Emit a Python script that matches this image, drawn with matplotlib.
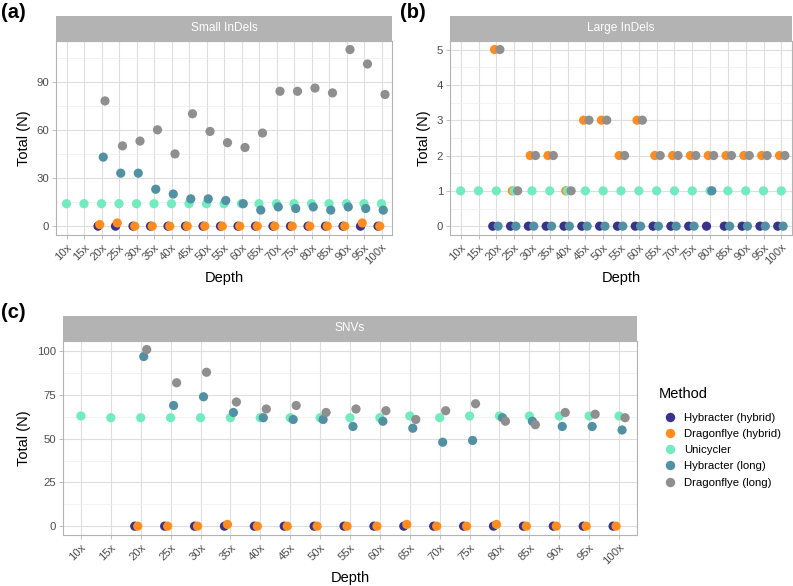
import matplotlib
matplotlib.use("Agg")
import matplotlib.pyplot as plt
from matplotlib.lines import Line2D
import numpy as np

plt.rcParams["font.family"] = ["Liberation Sans", "DejaVu Sans"]

W, H = 793, 586
depths = ["10x", "15x", "20x", "25x", "30x", "35x", "40x", "45x", "50x", "55x",
          "60x", "65x", "70x", "75x", "80x", "85x", "90x", "95x", "100x"]
methods = ["Hybracter (hybrid)", "Dragonflye (hybrid)", "Unicycler",
           "Hybracter (long)", "Dragonflye (long)"]
colors = ["#3A3189", "#FF8C1E", "#72EBBF", "#5191A3", "#8F8F8F"]

N = None
# Small InDels
small_hyb_hybrid = [N, N, 0, 0, 0, 0, 0, 0, 0, 0, 0, 0, 0, 0, 0, 0, 0, 0, 0]
small_dfl_hybrid = [N, N, 1, 2, 0, 0, 0, 0, 0, 0, 0, 0, 0, 0, 0, 0, 0, 2, 0]
small_unicycler = [14] * 19
small_hyb_long = [N, N, 43, 33, 33, 23, 20, 17, 17, 16, 14, 10, 12, 11, 12, 10, 12, 11, 10]
small_dfl_long = [N, N, 78, 50, 53, 60, 45, 70, 59, 52, 49, 58, 84, 84, 86, 83, 110, 101, 82]

# Large InDels
large_hyb_hybrid = [N, N, 0, 0, 0, 0, 0, 0, 0, 0, 0, 0, 0, 0, 0, 0, 0, 0, 0]
large_dfl_hybrid = [N, N, 5, 1, 2, 2, 1, 3, 3, 2, 3, 2, 2, 2, 2, 2, 2, 2, 2]
large_unicycler = [1] * 19
large_hyb_long = [N, N, 0, 0, 0, 0, 0, 0, 0, 0, 0, 0, 0, 0, 1, 0, 0, 0, 0]
large_dfl_long = [N, N, 5, 1, 2, 2, 1, 3, 3, 2, 3, 2, 2, 2, 2, 2, 2, 2, 2]

# SNVs
snv_hyb_hybrid = [N, N, 0, 0, 0, 0, 0, 0, 0, 0, 0, 0, 0, 0, 0, 0, 0, 0, 0]
snv_dfl_hybrid = [N, N, 0, 0, 0, 1, 0, 0, 0, 0, 0, 1, 0, 0, 1, 0, 0, 0, 0]
snv_unicycler = [63, 62, 62, 62, 62, 62, 62, 62, 62, 62, 62, 63, 62, 63, 63, 63, 63, 63, 63]
snv_hyb_long = [N, N, 97, 69, 74, 65, 62, 61, 61, 57, 60, 56, 48, 49, 62, 60, 57, 57, 55]
snv_dfl_long = [N, N, 101, 82, 88, 71, 67, 69, 65, 67, 66, 61, 66, 70, 60, 58, 65, 64, 62]

panels = [
    dict(title="Small InDels", tag="(a)", box=(56, 392, 40.7, 235),
         data=[small_hyb_hybrid, small_dfl_hybrid, small_unicycler, small_hyb_long, small_dfl_long],
         ticks=[0, 30, 60, 90], minor=[15, 45, 75, 105], tagpos=(1, 13)),
    dict(title="Large InDels", tag="(b)", box=(450, 792, 40.7, 235),
         data=[large_hyb_hybrid, large_dfl_hybrid, large_unicycler, large_hyb_long, large_dfl_long],
         ticks=[0, 1, 2, 3, 4, 5], minor=[0.5, 1.5, 2.5, 3.5, 4.5], tagpos=(400, 13)),
    dict(title="SNVs", tag="(c)", box=(63, 637, 340.7, 535),
         data=[snv_hyb_hybrid, snv_dfl_hybrid, snv_unicycler, snv_hyb_long, snv_dfl_long],
         ticks=[0, 25, 50, 75, 100], minor=[12.5, 37.5, 62.5, 87.5], tagpos=(1, 313)),
]

fig = plt.figure(figsize=(W / 100, H / 100), dpi=100)
fig.patch.set_facecolor("white")

strip_h = 25
for p in panels:
    l, r, t, b = p["box"]
    ax = fig.add_axes([l / W, 1 - b / H, (r - l) / W, (b - t) / H])
    sax = fig.add_axes([l / W, 1 - t / H, (r - l) / W, strip_h / H])
    sax.set_facecolor("#B3B3B3")
    sax.set_xticks([]); sax.set_yticks([])
    for s in sax.spines.values():
        s.set_visible(False)
    sax.text(0.5, 0.5, p["title"], color="white", fontsize=8.6, ha="center", va="center",
             transform=sax.transAxes)

    xs = np.arange(len(depths))
    allv = []
    for i, (series, col) in enumerate(zip(p["data"], colors)):
        xi = [x + (i - 2) * 0.1 for x, v in zip(xs, series) if v is not None]
        yi = [v for v in series if v is not None]
        allv += yi
        ax.scatter(xi, yi, s=44, color=col, edgecolors="none", zorder=3 + i)
    lo, hi = min(allv), max(allv)
    pad = (hi - lo) * 0.05
    ax.set_ylim(lo - pad, hi + pad)
    ax.set_xlim(-0.6, len(depths) - 0.4)
    ax.set_xticks(xs)
    ax.set_xticklabels(depths, rotation=45, ha="right", va="top", rotation_mode="anchor")
    ax.set_yticks(p["ticks"])
    ax.set_yticks(p["minor"], minor=True)
    ax.grid(True, which="major", color="#DEDEDE", linewidth=0.8)
    ax.grid(True, which="minor", axis="y", color="#EDEDED", linewidth=0.5)
    ax.set_axisbelow(True)
    for s in ax.spines.values():
        s.set_color("#B3B3B3")
        s.set_linewidth(0.8)
    ax.tick_params(axis="both", which="major", labelsize=8.2, labelcolor="#4D4D4D",
                   color="#B3B3B3", length=3, width=0.6, pad=2)
    ax.tick_params(axis="y", which="minor", length=0)
    ax.set_xlabel("Depth", fontsize=10.5, labelpad=3)
    ax.set_ylabel("Total (N)", fontsize=10.5, labelpad=4)
    fig.text(p["tagpos"][0] / W, 1 - p["tagpos"][1] / H, p["tag"], fontsize=14.5,
             fontweight="bold", ha="left", va="center")

fig.text(659 / W, 1 - 394 / H, "Method", fontsize=10.5, ha="left", va="center")
handles = [Line2D([], [], marker="o", linestyle="none", markersize=6.8,
                  markerfacecolor=c, markeredgecolor="none") for c in colors]
leg = fig.legend(handles, methods, loc="upper left",
                 bbox_to_anchor=(657 / W, 1 - 408 / H), frameon=False,
                 fontsize=8.2, handletextpad=0.55,
                 labelspacing=0.55, handlelength=1.4, borderaxespad=0)

fig.savefig("out.png", dpi=100, facecolor="white")
